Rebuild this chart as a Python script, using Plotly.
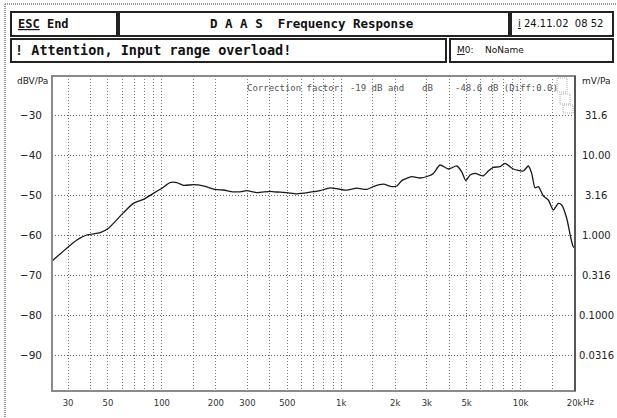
import plotly.graph_objects as go
import math

# ---------------- data ----------------
freq_hz = [24.4, 29.5, 33.6, 38.1, 45.3, 50.4, 61.1, 69.4, 78.9, 89.7, 100, 111, 121, 132,
           150, 170, 198, 220, 250, 273, 297, 338, 401, 437, 497, 565, 670, 762, 867, 964,
           1074, 1220, 1387, 1510, 1717, 1913, 2040, 2175, 2472, 2749, 3060, 3262, 3553,
           3955, 4405, 4697, 4945, 5228, 5573, 6199, 6607, 7046, 7677, 8186, 9106, 10350,
           11040, 11530, 12030, 12560, 13390, 14270, 15220, 16230, 16950, 18070, 19000,
           19600, 20100]
level_dbv = [-66.5, -63.3, -61.25, -60.0, -59.4, -58.3, -54.4, -52.1, -51.1, -49.6, -48.3,
             -46.9, -46.9, -47.6, -47.4, -47.7, -48.6, -48.75, -49.2, -49.2, -48.9, -49.4,
             -49.1, -49.25, -49.4, -49.7, -49.3, -48.9, -48.2, -48.5, -48.8, -48.3, -48.6,
             -47.9, -47.3, -47.9, -47.75, -46.4, -45.4, -45.75, -45.25, -44.6, -42.5, -43.5,
             -42.75, -44.2, -46.4, -45.0, -44.6, -45.2, -44.0, -43.1, -42.9, -42.1, -43.5,
             -44.0, -42.75, -44.6, -48.2, -47.9, -50.25, -51.25, -53.75, -52.1, -52.5,
             -55.8, -60.5, -62.8, -63.3]

x_grid = [30, 40, 50, 60, 70, 80, 90, 100, 150, 200, 300, 400, 500, 600, 700, 800, 900,
          1000, 1500, 2000, 3000, 4000, 5000, 6000, 7000, 8000, 9000, 10000, 15000]
x_labels = {30: "30", 50: "50", 100: "100", 200: "200", 300: "300", 500: "500",
            1000: "1k", 2000: "2k", 3000: "3k", 5000: "5k", 10000: "10k", 20000: "20k"}
y_ticks = [-30, -40, -50, -60, -70, -80, -90]
y_labels = ["\u221230", "\u221240", "\u221250", "\u221260", "\u221270", "\u221280", "\u221290"]
right_labels = ["31.6", "10.00", "3.16", "1.000", "0.316", "0.1000", "0.0316"]

W, H = 617, 418
L, R, T, B = 52, 42, 76, 27
PW, PH = W - L - R, H - T - B


def px(x):
    return (x - L) / PW


def py(y):
    return (H - B - y) / PH


tickvals = x_grid + [20000]
ticktext = [x_labels.get(v, "") for v in tickvals]

fig = go.Figure()
fig.add_trace(go.Scatter(x=freq_hz, y=level_dbv, mode="lines",
                         line=dict(color="#1a1a1a", width=1.3, shape="spline", smoothing=0.6),
                         hoverinfo="skip", showlegend=False))

mono = "DejaVu Sans Mono"
sans = "DejaVu Sans"
grid_dash = "1px,2px"

fig.update_layout(
    width=W, height=H, margin=dict(l=L, r=R, t=T, b=B, pad=0, autoexpand=False),
    paper_bgcolor="white", plot_bgcolor="white", showlegend=False,
    xaxis=dict(type="log", range=[math.log10(24.4), math.log10(20100)],
               tickvals=tickvals, ticktext=ticktext, showgrid=True, automargin=False,
               gridcolor="#777", griddash=grid_dash, gridwidth=1, zeroline=False,
               showline=False, ticks="", ticklabelstandoff=5,
               tickfont=dict(family=sans, size=8.5, color="#333")),
    yaxis=dict(range=[-99, -20.25], tickvals=y_ticks, ticktext=y_labels, automargin=False,
               showgrid=True, gridcolor="#666", griddash=grid_dash, gridwidth=1,
               zeroline=False, showline=False, ticks="", ticklabelstandoff=9,
               tickfont=dict(family=sans, size=10.5, color="#222")),
)

shapes = []
# outer window frame (top and left edges)
shapes.append(dict(type="line", xref="paper", yref="paper", x0=px(5), x1=px(617), y0=py(4), y1=py(4),
                   line=dict(color="#999", width=2, dash="1px,1px"), layer="below"))
shapes.append(dict(type="line", xref="paper", yref="paper", x0=px(5), x1=px(5), y0=py(4), y1=py(418),
                   line=dict(color="#999", width=2, dash="1px,1px"), layer="below"))
# header boxes
for (x0, y0, x1, y1) in [(11, 12, 117, 36), (119, 12, 509, 36), (511, 12, 613, 36),
                         (11, 39, 446, 62), (450, 39, 613, 62)]:
    shapes.append(dict(type="rect", xref="paper", yref="paper", x0=px(x0), x1=px(x1),
                       y0=py(y1), y1=py(y0), line=dict(color="#222", width=2)))
# plot frame
shapes.append(dict(type="rect", xref="paper", yref="paper", x0=0, x1=1, y0=0, y1=1,
                   line=dict(color="#8a8a8a", width=2)))
shapes.append(dict(type="line", xref="paper", yref="paper", x0=1, x1=1, y0=0, y1=1,
                   line=dict(color="#444", width=1.5)))
# small icon top right of plot
for (x0, y0, x1, y1) in [(557, 78, 567, 92), (560, 94, 570, 104), (563, 105, 573, 113)]:
    shapes.append(dict(type="rect", xref="paper", yref="paper", x0=px(x0), x1=px(x1),
                       y0=py(y1), y1=py(y0), line=dict(color="#aaa", width=1, dash="1px,1px")))
fig.update_layout(shapes=shapes)

ann = []


def text(x, y, s, size=10, family=mono, color="#111", anchor="left", bold=False):
    if bold:
        s = "<b>" + s + "</b>"
    ann.append(dict(xref="paper", yref="paper", x=px(x), y=py(y), text=s, showarrow=False,
                    xanchor=anchor, yanchor="middle", font=dict(family=family, size=size, color=color)))


text(16, 24, "<u>ESC</u> End", size=12, bold=True)
text(208, 24, "D A A S  Frequency Response", size=12.5, bold=True)
text(516, 24, "<u>i</u> 24.11.02  08 52", size=10, family=sans)
text(13, 50, "! Attention, Input range overload!", size=13.5, bold=True)
text(455, 50, "<u>M</u>0:    NoName", size=9, family=sans)
text(245, 88, "Correction factor: -19 dB and", size=9, color="#555")
text(420, 88, "dB", size=9, color="#555")
text(453, 88, "-48.6 dB (Diff:0.0)", size=9, color="#555")
text(15, 81, "dBV/Pa", size=9, family=sans, color="#222")
text(580, 81, "mV/Pa", size=9, family=sans, color="#222")
text(581, 402, "Hz", size=8.5, family=sans, color="#333")

fig.update_layout(annotations=ann)
for v, s in zip(y_ticks, right_labels):
    fig.add_annotation(xref="paper", yref="y", x=px(596), y=v, text=s, showarrow=False,
                       xanchor="center", yanchor="middle",
                       font=dict(family=sans, size=10, color="#222"))

fig.write_html("out.html", config={"displayModeBar": False, "staticPlot": True},
               post_script="document.body.style.margin='0';")
